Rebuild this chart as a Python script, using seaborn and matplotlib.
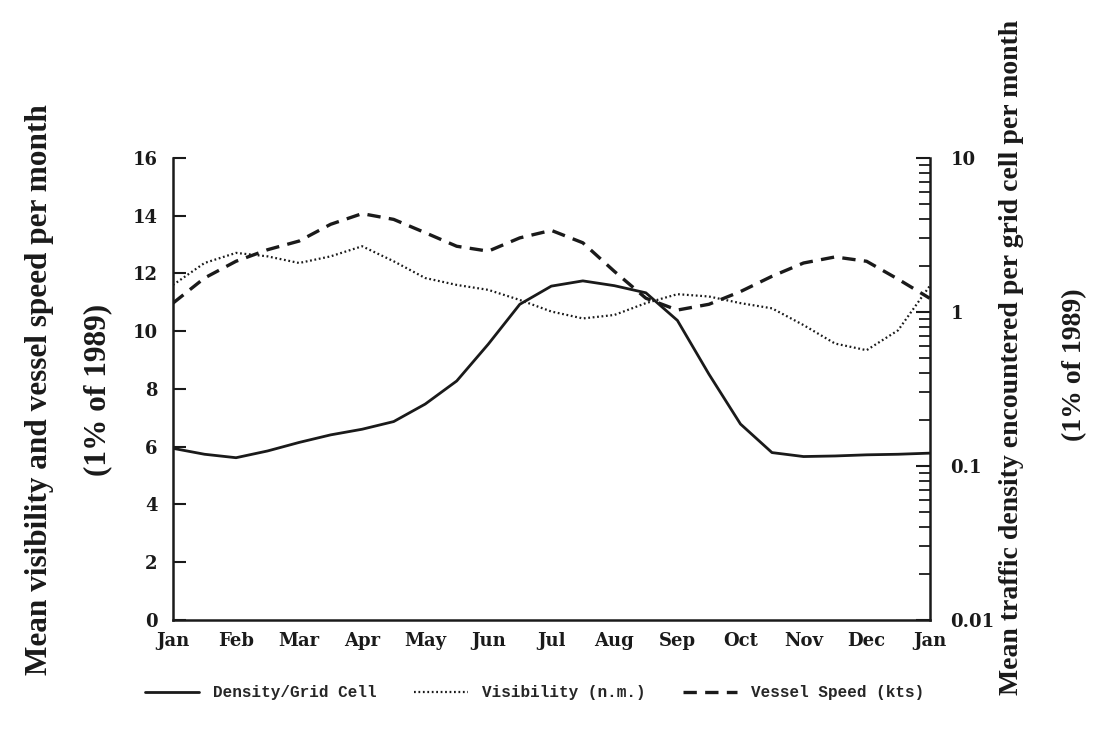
import numpy as np
import pandas as pd
import matplotlib
matplotlib.use("Agg")
import matplotlib.pyplot as plt
import seaborn as sns
from matplotlib.ticker import LogLocator, FixedLocator, NullFormatter

# Half-month sample positions (0 = Jan, 12 = following Jan)
month_pos = [i * 0.5 for i in range(25)]
month_labels = ["Jan", "Feb", "Mar", "Apr", "May", "Jun", "Jul",
                "Aug", "Sep", "Oct", "Nov", "Dec", "Jan"]

# Mean traffic density per grid cell (right, log axis)
density = [0.130, 0.119, 0.113, 0.125, 0.142, 0.159, 0.173, 0.194, 0.252,
           0.356, 0.617, 1.12, 1.47, 1.59, 1.48, 1.33, 0.88, 0.394, 0.187,
           0.122, 0.115, 0.116, 0.118, 0.119, 0.121]

# Mean visibility, nautical miles (left axis)
visibility = [11.60, 12.36, 12.71, 12.59, 12.36, 12.59, 12.94, 12.42, 11.84,
              11.60, 11.43, 11.08, 10.68, 10.44, 10.56, 10.97, 11.28, 11.20,
              10.97, 10.79, 10.21, 9.57, 9.34, 10.03, 11.56]

# Mean vessel speed, knots (left axis)
speed = [10.97, 11.84, 12.42, 12.82, 13.12, 13.70, 14.07, 13.87, 13.41,
         12.94, 12.77, 13.23, 13.49, 13.06, 12.07, 11.14, 10.73, 10.93,
         11.37, 11.90, 12.36, 12.57, 12.42, 11.80, 11.14]

df = pd.DataFrame({"month": month_pos, "density": density,
                   "visibility": visibility, "speed": speed})

sns.set_theme(style="white")
plt.rcParams["font.family"] = ["DejaVu Serif"]
plt.rcParams["font.weight"] = "bold"

INK = "#1a1a1a"
fig = plt.figure(figsize=(11.16, 7.31), dpi=100)
ax = fig.add_axes([0.155, 0.152, 0.678, 0.632])
ax2 = ax.twinx()

sns.lineplot(data=df, x="month", y="visibility", ax=ax, color=INK,
             lw=1.6, linestyle=(0, (0.8, 1.2)), label="Visibility (n.m.)",
             legend=False)
sns.lineplot(data=df, x="month", y="speed", ax=ax, color=INK,
             lw=2.4, linestyle=(0, (4.0, 2.5)), label="Vessel Speed (kts)",
             legend=False)
sns.lineplot(data=df, x="month", y="density", ax=ax2, color=INK,
             lw=2.0, linestyle="-", label="Density/Grid Cell", legend=False)

# Left axis
ax.set_xlim(0, 12)
ax.set_ylim(0, 16)
ax.set_yticks(range(0, 17, 2))
ax.set_xticks(range(13))
ax.set_xticklabels(month_labels)
ax.set_xlabel("")
ax.set_ylabel("")
ax.tick_params(axis="both", direction="in", length=9, width=1.5,
               colors=INK, labelsize=13)
ax.tick_params(axis="y", pad=11)
ax.tick_params(axis="x", pad=9)
for lab in ax.get_xticklabels() + ax.get_yticklabels():
    lab.set_fontweight("bold")

# Right log axis
ax2.set_yscale("log")
ax2.set_ylim(0.01, 10)
ax2.yaxis.set_major_locator(FixedLocator([0.01, 0.1, 1, 10]))
ax2.set_yticklabels(["0.01", "0.1", "1", "10"])
ax2.yaxis.set_minor_locator(LogLocator(base=10, subs=np.arange(2, 10)))
ax2.yaxis.set_minor_formatter(NullFormatter())
ax2.tick_params(axis="y", which="major", direction="in", length=10,
                width=1.5, colors=INK, labelsize=13, pad=15)
ax2.tick_params(axis="y", which="minor", direction="in", length=8,
                width=1.3, colors=INK)
for lab in ax2.get_yticklabels():
    lab.set_fontweight("bold")
ax2.set_ylabel("")

for a in (ax, ax2):
    a.spines["top"].set_visible(False)
    for s in ("left", "bottom", "right"):
        a.spines[s].set_linewidth(1.8)
        a.spines[s].set_color(INK)
ax.spines["right"].set_visible(False)
ax2.spines["left"].set_visible(False)
ax2.spines["bottom"].set_visible(False)
ax.grid(False)
ax2.grid(False)

# Axis titles, one text per line
W, H = 1116, 731
title_kw = dict(family=["Liberation Serif"], fontweight="bold", color=INK,
                rotation=90, ha="center", va="center")
fig.text(40 / W, 1 - 390 / H, "Mean visibility and vessel speed per month",
         fontsize=22.5, **title_kw)
fig.text(98 / W, 1 - 390 / H, "(1% of 1989)", fontsize=22.5, **title_kw)
fig.text(1012 / W, 1 - 357 / H,
         "Mean traffic density encountered per grid cell per month",
         fontsize=20, **title_kw)
fig.text(1075 / W, 1 - 365 / H, "(1% of 1989)", fontsize=20, **title_kw)

# Legend under the plot
handles = ax2.get_lines()[:1] + ax.get_lines()[:2]
labels = ["Density/Grid Cell", "Visibility (n.m.)", "Vessel Speed (kts)"]
fig.legend(handles, labels, loc="center", bbox_to_anchor=(0.479, 0.052),
           ncol=3, frameon=False, handlelength=3.4, columnspacing=2.3,
           handletextpad=0.9,
           prop=dict(family="Liberation Mono", weight="bold", size=11.5))

fig.savefig("out.png", dpi=100, facecolor="white")
